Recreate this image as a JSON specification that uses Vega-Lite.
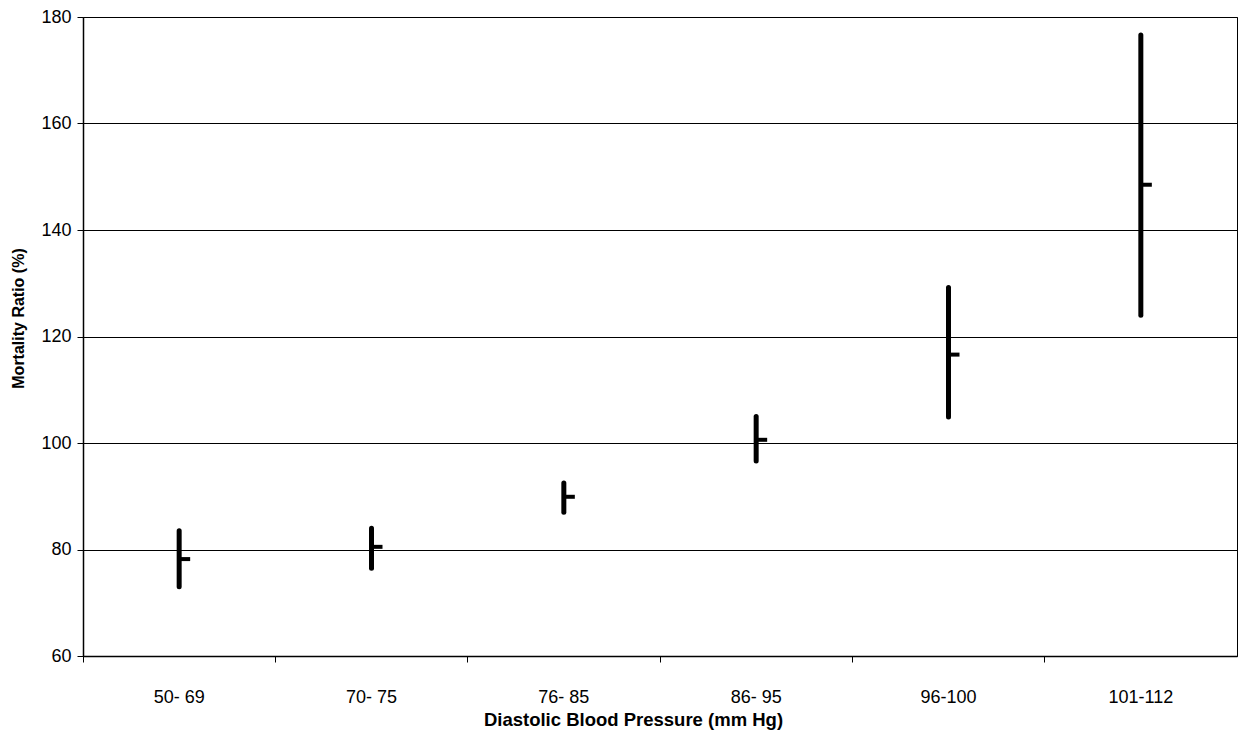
{
  "$schema": "https://vega.github.io/schema/vega-lite/v6.json",
  "width": 1154,
  "height": 639,
  "autosize": {"type": "none"},
  "padding": {"left": 83, "top": 17, "right": 1, "bottom": 74},
  "background": "white",
  "config": {
    "font": "Liberation Sans",
    "view": {"stroke": "#000", "strokeWidth": 1}
  },
  "data": {
    "values": [
      {"bp": "50- 69", "low": 73, "high": 83.5, "close": 78.2},
      {"bp": "70- 75", "low": 76.5, "high": 84, "close": 80.5},
      {"bp": "76- 85", "low": 87, "high": 92.5, "close": 89.9},
      {"bp": "86- 95", "low": 96.6, "high": 105, "close": 100.6},
      {"bp": "96-100", "low": 104.9, "high": 129.2, "close": 116.6},
      {"bp": "101-112", "low": 124, "high": 176.6, "close": 148.5}
    ]
  },
  "encoding": {
    "x": {
      "field": "bp",
      "type": "nominal",
      "sort": null,
      "scale": {"paddingInner": 0, "paddingOuter": 0},
      "axis": {
        "title": "Diastolic Blood Pressure (mm Hg)",
        "titleFont": "Liberation Sans",
        "titleFontSize": 18.5,
        "titleFontWeight": "bold",
        "titleColor": "#000",
        "titleX": 550,
        "titleY": 54,
        "titleBaseline": "top",
        "labelFont": "Liberation Sans",
        "labelFontSize": 18,
        "labelColor": "#000",
        "labelAngle": 0,
        "labelPadding": 26,
        "bandPosition": 0,
        "tickSize": 6,
        "tickColor": "#000",
        "domainColor": "#000",
        "domainWidth": 1.5,
        "grid": false
      }
    }
  },
  "layer": [
    {
      "mark": {"type": "rule", "strokeWidth": 5, "strokeCap": "round", "color": "#000"},
      "encoding": {
        "y": {
          "field": "low",
          "type": "quantitative",
          "scale": {"domain": [60, 180], "nice": false},
          "axis": {
            "title": "Mortality Ratio (%)",
            "titleFont": "Liberation Sans",
            "titleFontSize": 16,
            "titleFontWeight": "bold",
            "titleColor": "#000",
            "titleX": -65,
            "titleY": 301,
            "titleAlign": "center",
            "titleBaseline": "middle",
            "labelFont": "Liberation Sans",
            "labelFontSize": 18,
            "labelColor": "#000",
            "labelPadding": 6,
            "values": [60, 80, 100, 120, 140, 160, 180],
            "tickSize": 6,
            "tickColor": "#000",
            "domainColor": "#000",
            "domainWidth": 1.5,
            "grid": true,
            "gridColor": "#000",
            "gridWidth": 1
          }
        },
        "y2": {"field": "high"}
      }
    },
    {
      "mark": {"type": "tick", "orient": "horizontal", "size": 10, "thickness": 4, "xOffset": 6, "color": "#000", "opacity": 1},
      "encoding": {
        "y": {"field": "close", "type": "quantitative"}
      }
    }
  ]
}
